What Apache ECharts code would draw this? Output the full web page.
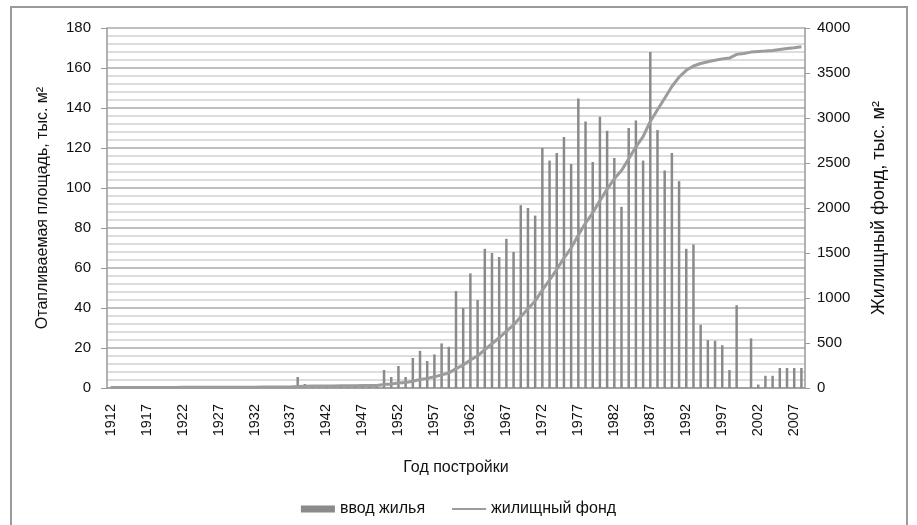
<!DOCTYPE html>
<html>
<head>
<meta charset="utf-8">
<script src="https://cdn.jsdelivr.net/npm/echarts@6/dist/echarts.min.js"></script>
<style>
html,body{margin:0;padding:0;background:#fff;}
#chart{width:917px;height:525px;}
</style>
</head>
<body>
<div id="chart"></div>
<script>
// Categories: years of construction 1912..2008
var years = [];
for (var y = 1912; y <= 2008; y++) { years.push(String(y)); }

// ввод жилья (thousand m², left axis), 1912..2008
var housingInput = [
  0,0,0,0,0,0,0,0,0,0,0,0,0,0,0,0,0,0,0,0,0,0,          // 1912-1933
  1,0,1,0,5.5,2,1.5,0.7,0.5,0.5,0.5,0.5,0.5,2,1,0.8,    // 1934-1949
  9,5.5,11,5.5,15,18.6,13.5,16.8,22.3,20.6,             // 1950-1959
  48.5,40,57.3,44,69.6,67.5,65.5,74.6,68,91.4,          // 1960-1969
  90,86.2,120,113.7,117.5,125.5,112,144.7,133.3,113,    // 1970-1979
  135.6,128.6,115,90.6,130,133.8,113.7,168,129,108.8,   // 1980-1989
  117.5,103.4,69.6,71.8,31.6,23.9,23.6,21.4,9,41.4,     // 1990-1999
  0,24.8,1.7,6.1,6.1,10,10,10,10                        // 2000-2008
];

// жилищный фонд (thousand m², right axis), 1912..2008
var housingStock = [
  5,5,5,5,5,6,6,6,6,6,7,7,7,7,8,8,8,8,9,9,9,10,         // 1912-1933
  11,11,12,12,18,20,21,22,23,23,24,24,25,27,28,29,      // 1934-1949
  38,44,55,60,75,94,107,124,146,167,                    // 1950-1959
  215,255,312,356,425,492,558,632,700,791,              // 1960-1969
  881,967,1087,1200,1318,1443,1555,1700,1833,1946,      // 1970-1979
  2082,2210,2325,2416,2546,2680,2794,2962,3091,3220,    // 1980-1989
  3350,3455,3530,3578,3606,3625,3642,3657,3666,3707,    // 1990-1999
  3716,3732,3738,3744,3751,3761,3771,3781,3792          // 2000-2008
];

var leftTicks = [0,20,40,60,80,100,120,140,160,180];
var rightTicks = [0,500,1000,1500,2000,2500,3000,3500,4000];

var FONT = 'Liberation Sans, Arial, sans-serif';
var chart = echarts.init(document.getElementById('chart'), null, {renderer:'canvas'});
chart.setOption({
  animation: false,
  backgroundColor: '#ffffff',
  graphic: [{
    type: 'rect',
    shape: {x: 11, y: 7, width: 896, height: 540},
    style: {fill: 'none', stroke: '#9a9a9a', lineWidth: 2},
    silent: true
  }],
  textStyle: {fontFamily: FONT},
  grid: {left: 107, right: 112, top: 28, bottom: 137},
  legend: {
    bottom: 3,
    left: 'center',
    itemWidth: 34,
    itemHeight: 7,
    itemGap: 26,
    textStyle: {fontFamily: FONT, fontSize: 16, color: '#111'},
    data: [
      {name: 'ввод жилья', icon: 'rect'},
      {name: 'жилищный фонд',
       itemStyle: {color: 'rgba(0,0,0,0)', borderColor: 'rgba(0,0,0,0)', borderWidth: 0},
       lineStyle: {color: '#9c9c9c', width: 2}}
    ]
  },
  xAxis: {
    type: 'category',
    data: years,
    boundaryGap: true,
    name: 'Год постройки',
    nameLocation: 'middle',
    nameGap: 72,
    nameTextStyle: {fontFamily: FONT, fontSize: 16, color: '#111'},
    axisLine: {lineStyle: {color: '#999', width: 1.5}},
    axisTick: {show: false},
    axisLabel: {interval: 4, rotate: 90, margin: 16, fontFamily: FONT, fontSize: 14.5, color: '#111'}
  },
  yAxis: [{
    type: 'value',
    min: leftTicks[0],
    max: leftTicks[leftTicks.length - 1],
    interval: 20,
    name: 'Отапливаемая площадь, тыс. м²',
    nameLocation: 'middle',
    nameRotate: 90,
    nameGap: 56,
    nameTextStyle: {fontFamily: FONT, fontSize: 16, color: '#111'},
    axisLine: {show: true, lineStyle: {color: '#999', width: 1.5}},
    axisTick: {show: true, length: 6, lineStyle: {color: '#999'}},
    axisLabel: {margin: 16, fontFamily: FONT, fontSize: 15, color: '#111'},
    splitLine: {show: true, lineStyle: {color: '#aaaaaa', width: 1.5}},
    minorTick: {show: false, splitNumber: 5},
    minorSplitLine: {show: true, lineStyle: {color: '#d2d2d2', width: 1.5}}
  }, {
    type: 'value',
    min: rightTicks[0],
    max: rightTicks[rightTicks.length - 1],
    interval: 500,
    position: 'right',
    name: 'Жилищный фонд, тыс. м²',
    nameLocation: 'middle',
    nameRotate: 90,
    nameGap: 65,
    nameTextStyle: {fontFamily: FONT, fontSize: 18, color: '#111'},
    axisLine: {show: true, lineStyle: {color: '#999', width: 1.5}},
    axisTick: {show: true, length: 5, lineStyle: {color: '#999'}},
    axisLabel: {margin: 12, fontFamily: FONT, fontSize: 15, color: '#111',
                formatter: function (v) { return String(v); }},
    splitLine: {show: false}
  }],
  series: [{
    name: 'ввод жилья',
    type: 'bar',
    yAxisIndex: 0,
    data: housingInput,
    barWidth: 2.5,
    itemStyle: {color: '#8a8a8a'}
  }, {
    name: 'жилищный фонд',
    type: 'line',
    yAxisIndex: 1,
    data: housingStock,
    symbol: 'none',
    showSymbol: false,
    smooth: false,
    lineStyle: {color: '#9c9c9c', width: 3},
    itemStyle: {color: '#9c9c9c'}
  }]
});
</script>
</body>
</html>
